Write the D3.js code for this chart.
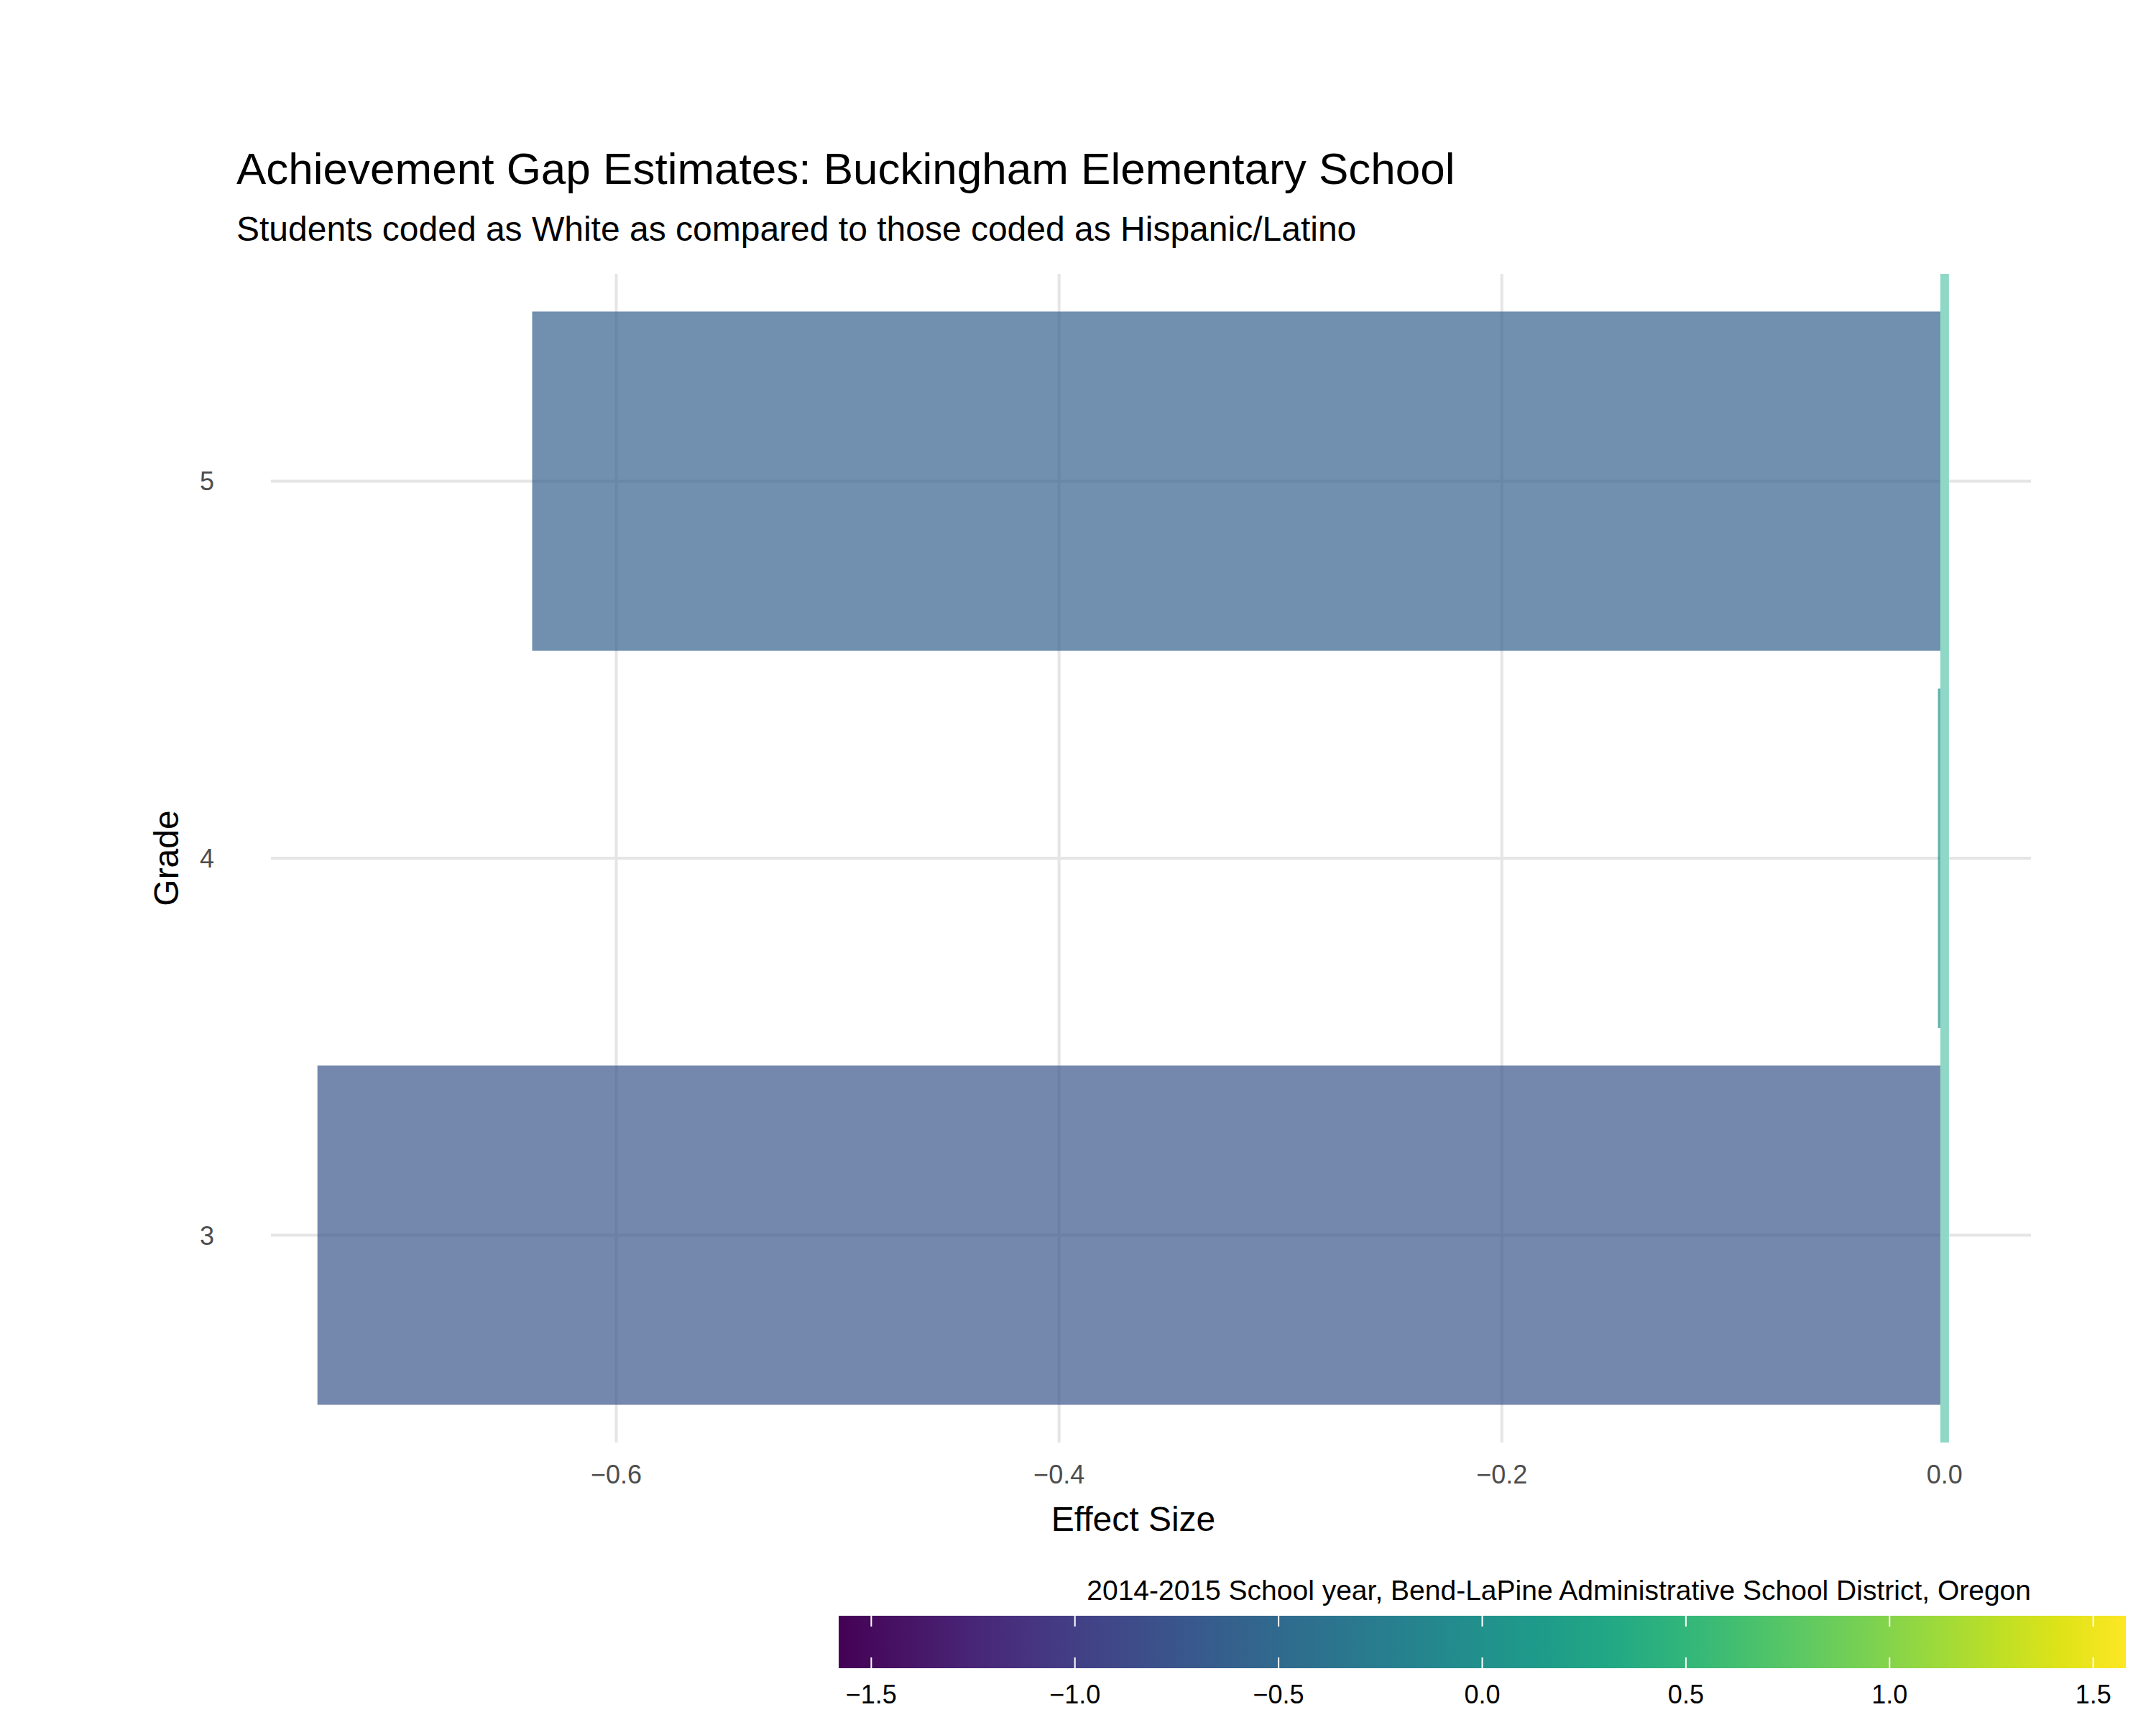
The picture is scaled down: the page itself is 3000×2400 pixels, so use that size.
<!DOCTYPE html>
<html><head><meta charset="utf-8">
<script src="https://cdn.jsdelivr.net/npm/d3@7"></script>
<style>body{margin:0;background:#fff}text{font-family:"Liberation Sans",Arial,sans-serif}</style>
</head><body>
<script>
var grades = ['3', '4', '5'],
	effects = [-0.735, -0.003, -0.638],
	xTicks = [-0.6, -0.4, -0.2, 0.0],
	colorTicks = [-1.5, -1.0, -0.5, 0.0, 0.5, 1.0, 1.5],
	colorLimit = 1.58;

var W = 3000, H = 2400,
	panel = {left: 377, right: 2826, top: 381, bottom: 2007};

var svg = d3.select('body').append('svg').attr('width', W).attr('height', H);

var x = d3.scaleLinear().domain([-0.756, 0.039]).range([panel.left, panel.right]);
var y = d3.scaleBand().domain(grades.slice().reverse()).range([panel.top, panel.bottom]).padding(0.1);
var color = d3.scaleSequential(d3.interpolateViridis).domain([-colorLimit, colorLimit]);

// gridlines
svg.append('g').selectAll('line').data(xTicks).enter().append('line')
	.attr('x1', function(d) { return x(d); }).attr('x2', function(d) { return x(d); })
	.attr('y1', panel.top).attr('y2', panel.bottom)
	.attr('stroke', '#e5e5e5').attr('stroke-width', 4);
svg.append('g').selectAll('line').data(grades).enter().append('line')
	.attr('x1', panel.left).attr('x2', panel.right)
	.attr('y1', function(d) { return y(d) + y.bandwidth() / 2; })
	.attr('y2', function(d) { return y(d) + y.bandwidth() / 2; })
	.attr('stroke', '#e5e5e5').attr('stroke-width', 4);

// bars
svg.append('g').selectAll('rect').data(grades).enter().append('rect')
	.attr('x', function(d, i) { return x(Math.min(0, effects[i])); })
	.attr('width', function(d, i) { return Math.max(Math.abs(x(effects[i]) - x(0)), 4); })
	.attr('y', function(d) { return y(d); })
	.attr('height', y.bandwidth())
	.attr('fill', function(d, i) { return color(effects[i]); })
	.attr('fill-opacity', 0.7);

// zero reference line
svg.append('line')
	.attr('x1', x(0)).attr('x2', x(0)).attr('y1', panel.top).attr('y2', panel.bottom)
	.attr('stroke', '#8fd8c6').attr('stroke-width', 12);

// axis labels
svg.append('g').selectAll('text').data(xTicks).enter().append('text')
	.attr('x', function(d) { return x(d); }).attr('y', 2064)
	.attr('text-anchor', 'middle').attr('font-size', 36).attr('fill', '#4d4d4d')
	.text(function(d) { return d3.format('.1f')(d); });
svg.append('g').selectAll('text').data(grades).enter().append('text')
	.attr('x', 298).attr('y', function(d) { return y(d) + y.bandwidth() / 2 + 13; })
	.attr('text-anchor', 'end').attr('font-size', 36).attr('fill', '#4d4d4d')
	.text(function(d) { return d; });

svg.append('text').attr('x', 1577).attr('y', 2130).attr('text-anchor', 'middle')
	.attr('font-size', 48).text('Effect Size');
svg.append('text').attr('transform', 'translate(248,1194) rotate(-90)').attr('text-anchor', 'middle')
	.attr('font-size', 48).text('Grade');

svg.append('text').attr('x', 329).attr('y', 256).attr('font-size', 62)
	.text('Achievement Gap Estimates: Buckingham Elementary School');
svg.append('text').attr('x', 329).attr('y', 335).attr('font-size', 48)
	.text('Students coded as White as compared to those coded as Hispanic/Latino');
svg.append('text').attr('x', 2826).attr('y', 2226).attr('text-anchor', 'end').attr('font-size', 39)
	.text('2014-2015 School year, Bend-LaPine Administrative School District, Oregon');

// colour bar
var cx = d3.scaleLinear().domain([-colorLimit, colorLimit]).range([1167, 2958]),
	barTop = 2248, barH = 73;
var grad = svg.append('defs').append('linearGradient').attr('id', 'vir')
	.attr('x1', '0%').attr('x2', '100%');
grad.selectAll('stop').data(d3.range(0, 1.0001, 0.05)).enter().append('stop')
	.attr('offset', function(d) { return (d * 100) + '%'; })
	.attr('stop-color', function(d) { return d3.interpolateViridis(d); });
svg.append('rect').attr('x', cx.range()[0]).attr('y', barTop)
	.attr('width', cx.range()[1] - cx.range()[0]).attr('height', barH).attr('fill', 'url(#vir)');
var ct = svg.append('g').selectAll('g').data(colorTicks).enter().append('g');
ct.append('line').attr('x1', function(d) { return cx(d); }).attr('x2', function(d) { return cx(d); })
	.attr('y1', barTop).attr('y2', barTop + 15).attr('stroke', '#fff').attr('stroke-width', 2);
ct.append('line').attr('x1', function(d) { return cx(d); }).attr('x2', function(d) { return cx(d); })
	.attr('y1', barTop + barH - 15).attr('y2', barTop + barH).attr('stroke', '#fff').attr('stroke-width', 2);
ct.append('text').attr('x', function(d) { return cx(d); }).attr('y', 2370)
	.attr('text-anchor', 'middle').attr('font-size', 36)
	.text(function(d) { return d3.format('.1f')(d); });
</script>
</body></html>
